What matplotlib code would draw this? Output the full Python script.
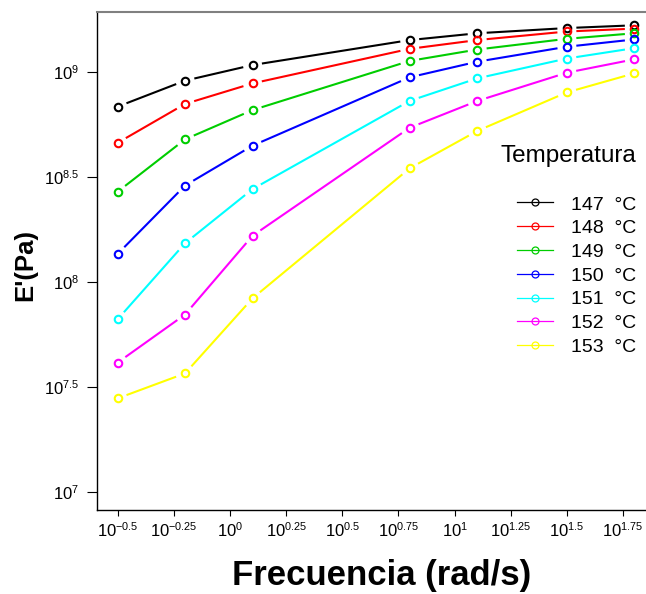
import numpy as np
import matplotlib
matplotlib.use("Agg")
import matplotlib.pyplot as plt
import matplotlib._mathtext as mathtext_impl
from matplotlib.lines import Line2D
from matplotlib.ticker import NullLocator

plt.rcParams['font.family'] = ['Liberation Sans', 'DejaVu Sans']
plt.rcParams['mathtext.fontset'] = 'custom'
plt.rcParams['mathtext.rm'] = 'Liberation Sans'
plt.rcParams['mathtext.it'] = 'Liberation Sans:italic'
plt.rcParams['mathtext.bf'] = 'Liberation Sans:bold'
# exponentes algo mas pequenos en las etiquetas 10^x
mathtext_impl.SHRINK_FACTOR = 0.65

# DATOS: barrido de frecuencia (rad/s) y modulo de almacenamiento E' (Pa)
frecuencia = [0.316, 0.631, 1.26, 6.31, 12.6, 31.6, 63.1]
temperaturas = [147, 148, 149, 150, 151, 152, 153]
colores = ['black', 'red', '#00CD00', 'blue', 'cyan', 'magenta', 'yellow']

E_147 = [6.84e8, 9.10e8, 1.08e9, 1.42e9, 1.53e9, 1.62e9, 1.67e9]
E_148 = [4.60e8, 7.05e8, 8.83e8, 1.29e9, 1.42e9, 1.56e9, 1.61e9]
E_149 = [2.69e8, 4.78e8, 6.59e8, 1.13e9, 1.28e9, 1.44e9, 1.53e9]
E_150 = [1.36e8, 2.88e8, 4.46e8, 9.44e8, 1.12e9, 1.32e9, 1.43e9]
E_151 = [6.64e7, 1.53e8, 2.77e8, 7.29e8, 9.33e8, 1.16e9, 1.30e9]
E_152 = [4.13e7, 7.00e7, 1.66e8, 5.43e8, 7.28e8, 9.93e8, 1.15e9]
E_153 = [2.79e7, 3.67e7, 8.36e7, 3.48e8, 5.24e8, 8.00e8, 9.86e8]
modulos = [E_147, E_148, E_149, E_150, E_151, E_152, E_153]

x_exp = ['-0.5', '-0.25', '0', '0.25', '0.5', '0.75', '1', '1.25', '1.5', '1.75']
y_exp = ['7', '7.5', '8', '8.5', '9']

W, H = 646, 594
fig = plt.figure(figsize=(W / 100, H / 100), dpi=100)
ax = fig.add_axes([97 / W, 1 - 510 / H, (655 - 97) / W, 498 / H])
ax.set_xscale('log')
ax.set_yscale('log')
ax.set_xlim(10 ** -0.592, 10 ** 1.892)
ax.set_ylim(10 ** 6.914, 10 ** 9.286)

# lineas tipo "b": segmentos recortados alrededor de cada punto
GAP = 9.5  # px
def lineas_con_hueco(x, y, color):
    pts = ax.transData.transform(np.column_stack([x, y]))
    inv = ax.transData.inverted()
    for a, b in zip(pts[:-1], pts[1:]):
        d = b - a
        L = np.hypot(*d)
        if L <= 2 * GAP:
            continue
        u = d / L
        seg = inv.transform(np.array([a + u * GAP, b - u * GAP]))
        ax.plot(seg[:, 0], seg[:, 1], color=color, lw=1.5, solid_capstyle='butt')

for E, c in zip(modulos, colores):
    lineas_con_hueco(frecuencia, E, c)
    ax.plot(frecuencia, E, ls='none', marker='o', ms=5.4, mew=1.5,
            mfc='none', mec=c)

ax.xaxis.set_minor_locator(NullLocator())
ax.yaxis.set_minor_locator(NullLocator())
ax.set_xticks([10 ** float(e) for e in x_exp])
ax.set_xticklabels([r'$\mathregular{10^{%s}}$' % e for e in x_exp])
ax.set_yticks([10 ** float(e) for e in y_exp])
ax.set_yticklabels([r'$\mathregular{10^{%s}}$' % e for e in y_exp])
ax.tick_params(axis='x', length=4.5, width=0.8, pad=3.5, labelsize=12)
ax.tick_params(axis='y', length=7, width=0.8, pad=6, labelsize=12)

for s in ['left', 'bottom', 'right']:
    ax.spines[s].set_color('black')
    ax.spines[s].set_linewidth(1.0)
ax.spines['top'].set_color('#808080')
ax.spines['top'].set_linewidth(1.5)

fig.text(382 / W, 1 - 585 / H, 'Frecuencia (rad/s)', fontsize=25,
         fontweight='bold', ha='center', va='baseline')
fig.text(25 / W, 1 - 265 / H, "E'(Pa)", fontsize=18.5, fontweight='bold',
         rotation=90, ha='center', va='center')

# leyenda
fig.text(568.5 / W, 1 - 162 / H, 'Temperatura', fontsize=17.5,
         ha='center', va='baseline')
for i, (t, c) in enumerate(zip(temperaturas, colores)):
    yr = 202.5 + 23.75 * i
    yf = 1 - yr / H
    fig.add_artist(Line2D([517 / W, 535 / W, 553 / W], [yf, yf, yf],
                          transform=fig.transFigure, color=c, lw=0.9,
                          marker='o', markevery=[1], ms=5, mew=0.9,
                          mfc='none', mec=c))
    fig.text(571 / W, 1 - (yr + 7) / H, f'{t}  °C', fontsize=14,
             ha='left', va='baseline')

fig.savefig('out.png', dpi=100)
